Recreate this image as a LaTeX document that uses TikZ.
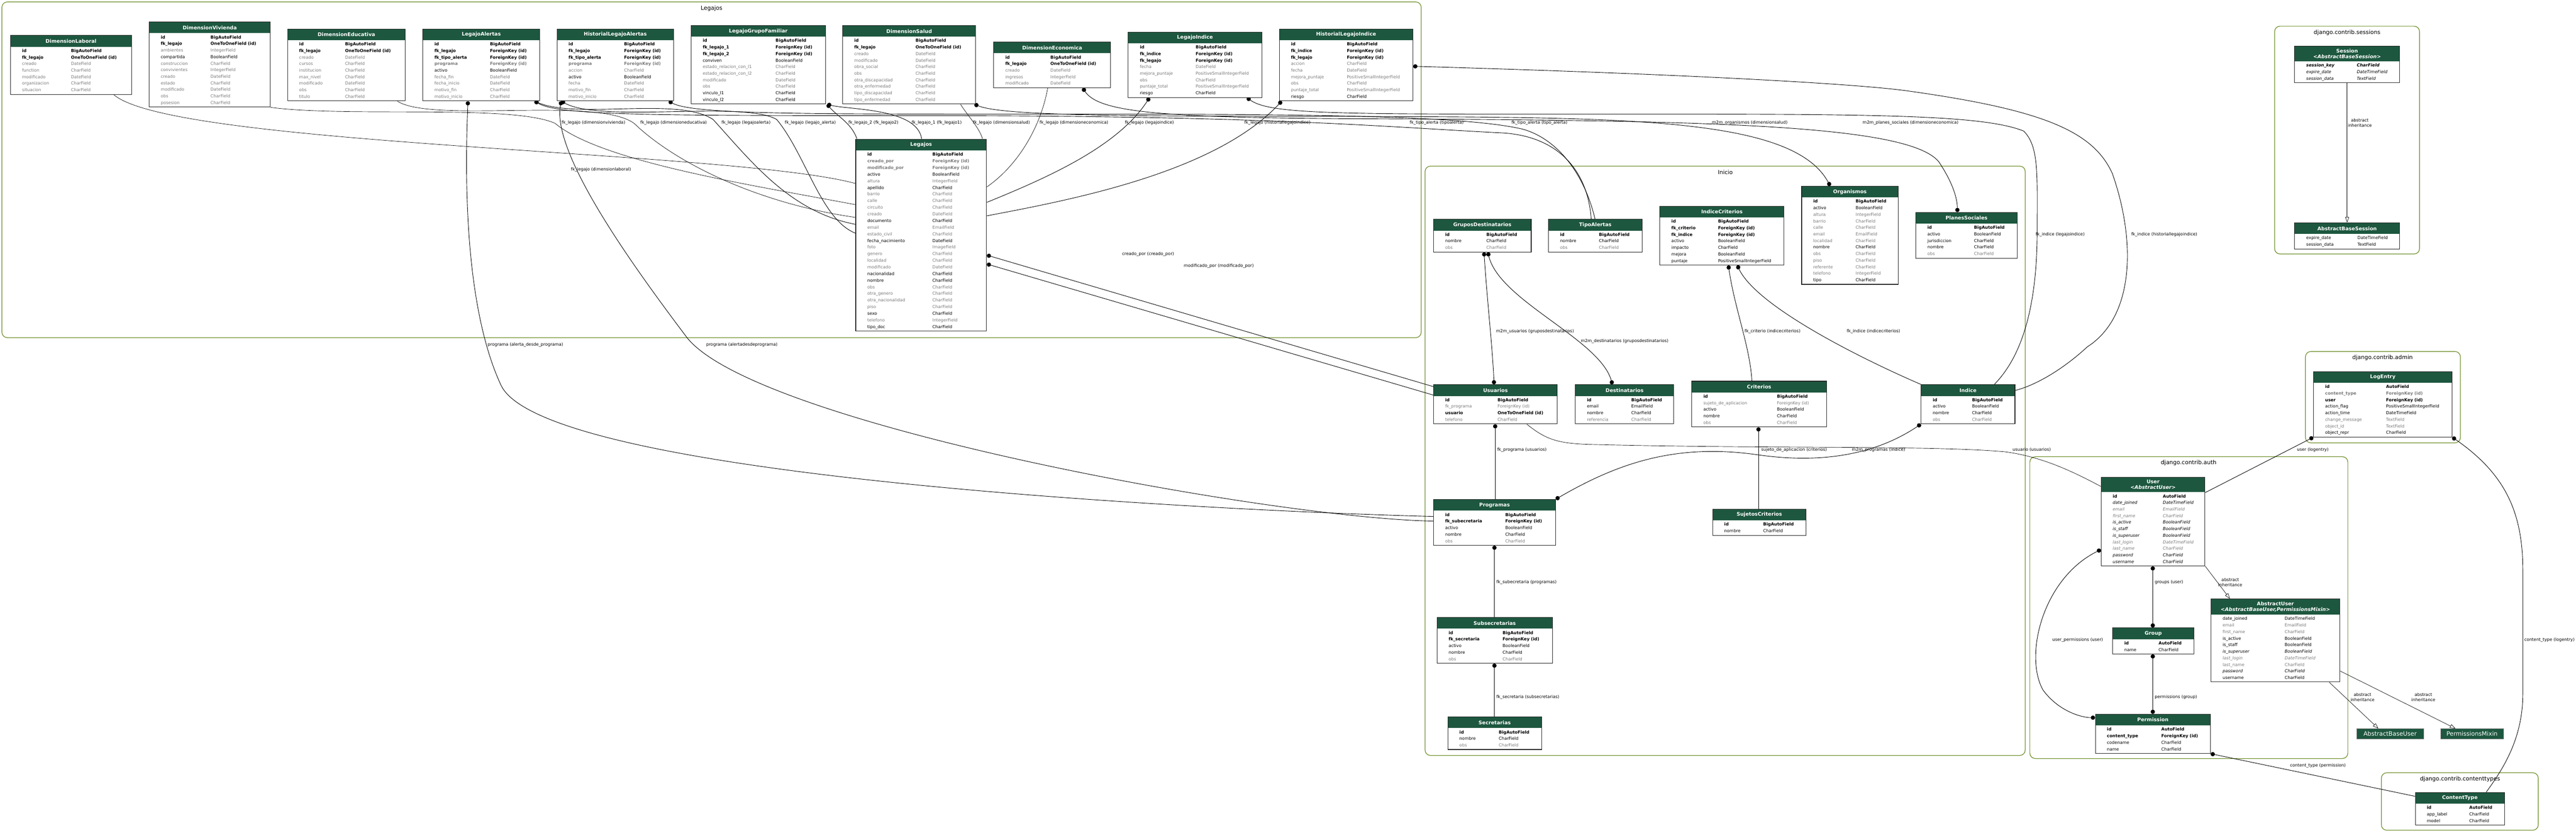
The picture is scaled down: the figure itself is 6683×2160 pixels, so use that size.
\documentclass[tikz,border=0pt]{standalone}
\usepackage{fontspec}
\setmainfont{DejaVu Sans}
\usepackage[usenames,dvipsnames]{xcolor}
\usepackage{tikz}
\usetikzlibrary{arrows.meta,fit}
\pgfdeclarelayer{bg}
\pgfdeclarelayer{back}
\pgfsetlayers{bg,back,main}

\newcommand\fieldB[2]{\textbf{#1} & \textbf{#2}\\}
\newcommand\fieldN[2]{#1 & #2\\}
\newcommand\fieldG[2]{\textcolor{fieldGray}{#1} & \textcolor{fieldGray}{#2}\\}
\newcommand\fieldGB[2]{\textcolor{fieldGray}{\textbf{#1}} & \textcolor{fieldGray}{\textbf{#2}}\\}
\newcommand\fieldI[2]{\textit{#1} & \textit{#2}\\}
\newcommand\fieldGI[2]{\textcolor{fieldGray}{\textit{#1}} & \textcolor{fieldGray}{\textit{#2}}\\}
\newcommand\fieldBI[2]{\textbf{\textit{#1}} & \textbf{\textit{#2}}\\}
\newcommand\modeltable[8][17]{%
  \node[tblhead, text width=#5pt, anchor=north west] (#2-h) at (#3,#4) {#7};
  \node[tblbody, text width=#5pt, anchor=north, font=\fontsize{11}{#1}\selectfont] (#2-b) at (#2-h.south) {\begin{tabular}{@{\hspace{30pt}}p{#6pt}@{}l@{}}#8\end{tabular}};
  \node[tblframe, fit=(#2-h)(#2-b)] (#2) {};
}

\begin{document}
\begin{tikzpicture}[x=1pt,y=-1pt,
  tblhead/.style={fill=headGreen, text=white, font=\fontsize{13}{15}\selectfont\bfseries, align=center, inner xsep=0pt, inner ysep=7pt, minimum height=29pt},
  tblbody/.style={fill=white, inner xsep=0pt, inner ysep=2pt, align=left},
  tblframe/.style={draw=black!85, line width=1.5pt, inner sep=0pt},
  absbox/.style={fill=headGreen, draw=gray, text=white, font=\fontsize{15.5}{17}\selectfont, minimum height=27pt, inner sep=0pt, anchor=north west},
  cluster/.style={draw=clusterGreen, line width=1.6pt, rounded corners=14pt},
  clabel/.style={font=\fontsize{14.7}{17}\selectfont},
  elabel/.style={font=\fontsize{11}{13}\selectfont, anchor=west, inner sep=1pt},
  ilabel/.style={font=\fontsize{11}{13}\selectfont, align=center, inner sep=1pt},
  fkline/.style={line width=1.2pt, {Circle[length=11pt]}-},
  mmline/.style={line width=1.2pt, {Circle[length=11pt]}-{Circle[length=11pt]}},
  ooline/.style={line width=0.9pt},
  inheritline/.style={line width=0.9pt, -{Triangle[open,length=14pt,width=10pt]}}]
\definecolor{headGreen}{RGB}{29,87,63}
\definecolor{fieldGray}{RGB}{123,123,123}
\definecolor{clusterGreen}{RGB}{105,139,34}
\useasboundingbox (0,0) rectangle (6683,2160);
\begin{pgfonlayer}{bg}
\fill[white] (0,0) rectangle (6683,2160);
\end{pgfonlayer}
\begin{pgfonlayer}{back}
\draw[cluster] (5,5) rectangle (3687,876);
\draw[cluster] (3697,431) rectangle (5254,1960);
\draw[cluster] (5901,68) rectangle (6277,659);
\draw[cluster] (5981,912) rectangle (6383,1149);
\draw[cluster] (5266,1185) rectangle (6091,1968);
\draw[cluster] (6178,2005) rectangle (6585,2154);
\end{pgfonlayer}
\node[clabel] (cl-leg) at (1846,22) {Legajos};
\node[clabel] (cl-ini) at (4476,447) {Inicio};
\node[clabel] (cl-sess) at (6089,85) {django.contrib.sessions};
\node[clabel] (cl-admin) at (6181,928) {django.contrib.admin};
\node[clabel] (cl-auth) at (5678,1201) {django.contrib.auth};
\node[clabel] (cl-ct) at (6382,2021) {django.contrib.contenttypes};

\modeltable{dlab}{27}{92}{314}{127}{DimensionLaboral}{\fieldB{id}{BigAutoField}\fieldB{fk\_legajo}{OneToOneField (id)}\fieldG{creado}{DateField}\fieldG{function}{CharField}\fieldG{modificado}{DateField}\fieldG{organizacion}{CharField}\fieldG{situacion}{CharField}}
\modeltable{dviv}{387}{57}{314}{129}{DimensionVivienda}{\fieldB{id}{BigAutoField}\fieldB{fk\_legajo}{OneToOneField (id)}\fieldG{ambientes}{IntegerField}\fieldN{compartida}{BooleanField}\fieldG{construccion}{CharField}\fieldG{convivientes}{IntegerField}\fieldG{creado}{DateField}\fieldG{estado}{CharField}\fieldG{modificado}{DateField}\fieldG{obs}{CharField}\fieldG{posesion}{CharField}}
\modeltable{dedu}{746}{75}{305}{119}{DimensionEducativa}{\fieldB{id}{BigAutoField}\fieldB{fk\_legajo}{OneToOneField (id)}\fieldG{creado}{DateField}\fieldG{cursos}{CharField}\fieldG{institucion}{CharField}\fieldG{max\_nivel}{CharField}\fieldG{modificado}{DateField}\fieldG{obs}{CharField}\fieldG{titulo}{CharField}}
\modeltable{lalert}{1097}{75}{303}{144}{LegajoAlertas}{\fieldB{id}{BigAutoField}\fieldB{fk\_legajo}{ForeignKey (id)}\fieldB{fk\_tipo\_alerta}{ForeignKey (id)}\fieldGB{programa}{ForeignKey (id)}\fieldN{activo}{BooleanField}\fieldG{fecha\_fin}{DateField}\fieldG{fecha\_inicio}{DateField}\fieldG{motivo\_fin}{CharField}\fieldG{motivo\_inicio}{CharField}}
\modeltable{hlalert}{1445}{75}{302}{144}{HistorialLegajoAlertas}{\fieldB{id}{BigAutoField}\fieldB{fk\_legajo}{ForeignKey (id)}\fieldB{fk\_tipo\_alerta}{ForeignKey (id)}\fieldGB{programa}{ForeignKey (id)}\fieldG{accion}{CharField}\fieldN{activo}{BooleanField}\fieldG{fecha}{DateField}\fieldG{motivo\_fin}{CharField}\fieldG{motivo\_inicio}{CharField}}
\modeltable{lgf}{1793}{66}{348}{189}{LegajoGrupoFamiliar}{\fieldB{id}{BigAutoField}\fieldB{fk\_legajo\_1}{ForeignKey (id)}\fieldB{fk\_legajo\_2}{ForeignKey (id)}\fieldN{conviven}{BooleanField}\fieldG{estado\_relacion\_con\_l1}{CharField}\fieldG{estado\_relacion\_con\_l2}{CharField}\fieldG{modificado}{DateField}\fieldG{obs}{CharField}\fieldN{vinculo\_l1}{CharField}\fieldN{vinculo\_l2}{CharField}}
\modeltable{dsal}{2186}{66}{345}{159}{DimensionSalud}{\fieldB{id}{BigAutoField}\fieldB{fk\_legajo}{OneToOneField (id)}\fieldG{creado}{DateField}\fieldG{modificado}{DateField}\fieldG{obra\_social}{CharField}\fieldG{obs}{CharField}\fieldG{otra\_discapacidad}{CharField}\fieldG{otra\_enfermedad}{CharField}\fieldG{tipo\_discapacidad}{CharField}\fieldG{tipo\_enfermedad}{CharField}}
\modeltable{deco}{2578}{109}{303}{117}{DimensionEconomica}{\fieldB{id}{BigAutoField}\fieldB{fk\_legajo}{OneToOneField (id)}\fieldG{creado}{DateField}\fieldG{ingresos}{IntegerField}\fieldG{modificado}{DateField}}
\modeltable{lind}{2927}{83}{346}{145}{LegajoIndice}{\fieldB{id}{BigAutoField}\fieldB{fk\_indice}{ForeignKey (id)}\fieldB{fk\_legajo}{ForeignKey (id)}\fieldG{fecha}{DateField}\fieldG{mejora\_puntaje}{PositiveSmallIntegerField}\fieldG{obs}{CharField}\fieldG{puntaje\_total}{PositiveSmallIntegerField}\fieldN{riesgo}{CharField}}
\modeltable{hlind}{3319}{75}{346}{145}{HistorialLegajoIndice}{\fieldB{id}{BigAutoField}\fieldB{fk\_indice}{ForeignKey (id)}\fieldB{fk\_legajo}{ForeignKey (id)}\fieldG{accion}{CharField}\fieldG{fecha}{DateField}\fieldG{mejora\_puntaje}{PositiveSmallIntegerField}\fieldG{obs}{CharField}\fieldG{puntaje\_total}{PositiveSmallIntegerField}\fieldN{riesgo}{CharField}}
\modeltable[17.2]{leg}{2220}{361}{339}{169}{Legajos}{\fieldB{id}{BigAutoField}\fieldGB{creado\_por}{ForeignKey (id)}\fieldGB{modificado\_por}{ForeignKey (id)}\fieldN{activo}{BooleanField}\fieldG{altura}{IntegerField}\fieldN{apellido}{CharField}\fieldG{barrio}{CharField}\fieldG{calle}{CharField}\fieldG{circuito}{CharField}\fieldG{creado}{DateField}\fieldN{documento}{CharField}\fieldG{email}{EmailField}\fieldG{estado\_civil}{CharField}\fieldN{fecha\_nacimiento}{DateField}\fieldG{foto}{ImageField}\fieldG{genero}{CharField}\fieldG{localidad}{CharField}\fieldG{modificado}{DateField}\fieldN{nacionalidad}{CharField}\fieldN{nombre}{CharField}\fieldG{obs}{CharField}\fieldG{otra\_genero}{CharField}\fieldG{otra\_nacionalidad}{CharField}\fieldG{piso}{CharField}\fieldN{sexo}{CharField}\fieldG{telefono}{IntegerField}\fieldN{tipo\_doc}{CharField}}

\modeltable{grdest}{3719}{569}{253}{107}{GruposDestinatarios}{\fieldB{id}{BigAutoField}\fieldN{nombre}{CharField}\fieldG{obs}{CharField}}
\modeltable{tipal}{4017}{569}{243}{101}{TipoAlertas}{\fieldB{id}{BigAutoField}\fieldN{nombre}{CharField}\fieldG{obs}{CharField}}
\modeltable{indcrit}{4306}{535}{322}{121}{IndiceCriterios}{\fieldB{id}{BigAutoField}\fieldB{fk\_criterio}{ForeignKey (id)}\fieldB{fk\_indice}{ForeignKey (id)}\fieldN{activo}{BooleanField}\fieldN{impacto}{CharField}\fieldN{mejora}{BooleanField}\fieldN{puntaje}{PositiveSmallIntegerField}}
\modeltable{org}{4674}{483}{250}{110}{Organismos}{\fieldB{id}{BigAutoField}\fieldN{activo}{BooleanField}\fieldG{altura}{IntegerField}\fieldG{barrio}{CharField}\fieldG{calle}{CharField}\fieldG{email}{EmailField}\fieldG{localidad}{CharField}\fieldN{nombre}{CharField}\fieldG{obs}{CharField}\fieldG{piso}{CharField}\fieldG{referente}{CharField}\fieldG{telefono}{IntegerField}\fieldN{tipo}{CharField}}
\modeltable{plan}{4970}{551}{263}{121}{PlanesSociales}{\fieldB{id}{BigAutoField}\fieldN{activo}{BooleanField}\fieldN{jurisdiccion}{CharField}\fieldN{nombre}{CharField}\fieldG{obs}{CharField}}
\modeltable{usu}{3719}{998}{321}{136}{Usuarios}{\fieldB{id}{BigAutoField}\fieldG{fk\_programa}{ForeignKey (id)}\fieldB{usuario}{OneToOneField (id)}\fieldG{telefono}{CharField}}
\modeltable{dest}{4087}{998}{255}{115}{Destinatarios}{\fieldB{id}{BigAutoField}\fieldN{email}{EmailField}\fieldN{nombre}{CharField}\fieldG{referencia}{CharField}}
\modeltable{crit}{4389}{989}{349}{191}{Criterios}{\fieldB{id}{BigAutoField}\fieldG{sujeto\_de\_aplicacion}{ForeignKey (id)}\fieldN{activo}{BooleanField}\fieldN{nombre}{CharField}\fieldG{obs}{CharField}}
\modeltable{ind}{4984}{998}{243}{102}{Indice}{\fieldB{id}{BigAutoField}\fieldN{activo}{BooleanField}\fieldN{nombre}{CharField}\fieldG{obs}{CharField}}
\modeltable{sujcrit}{4443}{1321}{242}{101}{SujetosCriterios}{\fieldB{id}{BigAutoField}\fieldN{nombre}{CharField}}
\modeltable{prog}{3719}{1296}{316}{156}{Programas}{\fieldB{id}{BigAutoField}\fieldB{fk\_subecretaria}{ForeignKey (id)}\fieldN{activo}{BooleanField}\fieldN{nombre}{CharField}\fieldG{obs}{CharField}}
\modeltable{subsec}{3728}{1602}{299}{140}{Subsecretarias}{\fieldB{id}{BigAutoField}\fieldB{fk\_secretaria}{ForeignKey (id)}\fieldN{activo}{BooleanField}\fieldN{nombre}{CharField}\fieldG{obs}{CharField}}
\modeltable{sec}{3756}{1860}{243}{102}{Secretarias}{\fieldB{id}{BigAutoField}\fieldN{nombre}{CharField}\fieldG{obs}{CharField}}

\modeltable{sess}{5953}{120}{272}{131}{Session\\\textit{<AbstractBaseSession>}}{\fieldBI{session\_key}{CharField}\fieldI{expire\_date}{DateTimeField}\fieldI{session\_data}{TextField}}
\modeltable{abssess}{5953}{578}{272}{133}{AbstractBaseSession}{\fieldN{expire\_date}{DateTimeField}\fieldN{session\_data}{TextField}}
\modeltable{logent}{6002}{964}{359}{158}{LogEntry}{\fieldB{id}{AutoField}\fieldGB{content\_type}{ForeignKey (id)}\fieldB{user}{ForeignKey (id)}\fieldN{action\_flag}{PositiveSmallIntegerField}\fieldN{action\_time}{DateTimeField}\fieldG{change\_message}{TextField}\fieldG{object\_id}{TextField}\fieldN{object\_repr}{CharField}}
\modeltable{user}{5451}{1238}{269}{130}{User\\\textit{<AbstractUser>}}{\fieldB{id}{AutoField}\fieldI{date\_joined}{DateTimeField}\fieldGI{email}{EmailField}\fieldGI{first\_name}{CharField}\fieldI{is\_active}{BooleanField}\fieldI{is\_staff}{BooleanField}\fieldI{is\_superuser}{BooleanField}\fieldGI{last\_login}{DateTimeField}\fieldGI{last\_name}{CharField}\fieldI{password}{CharField}\fieldI{username}{CharField}}
\modeltable{group}{5481}{1629}{210}{89}{Group}{\fieldB{id}{AutoField}\fieldN{name}{CharField}}
\modeltable{perm}{5436}{1853}{298}{141}{Permission}{\fieldB{id}{AutoField}\fieldB{content\_type}{ForeignKey (id)}\fieldN{codename}{CharField}\fieldN{name}{CharField}}
\modeltable{absuser}{5736}{1554}{334}{161}{AbstractUser\\\textit{<AbstractBaseUser,PermissionsMixin>}}{\fieldN{date\_joined}{DateTimeField}\fieldG{email}{EmailField}\fieldG{first\_name}{CharField}\fieldN{is\_active}{BooleanField}\fieldN{is\_staff}{BooleanField}\fieldI{is\_superuser}{BooleanField}\fieldGI{last\_login}{DateTimeField}\fieldG{last\_name}{CharField}\fieldI{password}{CharField}\fieldN{username}{CharField}}
\modeltable{ctype}{6266}{2056}{231}{110}{ContentType}{\fieldB{id}{AutoField}\fieldN{app\_label}{CharField}\fieldN{model}{CharField}}
\node[absbox, minimum width=173pt] (absbase) at (6114,1890) {AbstractBaseUser};
\node[absbox, minimum width=162pt] (permmix) at (6332,1890) {PermissionsMixin};

\begin{pgfonlayer}{back}
\draw[ooline] (dlab.south -| 295,0) .. controls (450,380) and (1900,390) .. (leg.west |- 0,476);
\draw[ooline] (dviv.south east) .. controls (900,305) and (1330,270) .. (1440,320) .. controls (1560,420) and (1950,480) .. (leg.west |- 0,531);
\draw[ooline] (dedu.south -| 1031,0) .. controls (1120,320) and (1550,250) .. (1645,320) .. controls (1760,430) and (1980,530) .. (leg.west |- 0,564);
\draw[fkline] (lalert.south -| 1387,0) .. controls (1500,310) and (1760,250) .. (1850,310) .. controls (1950,420) and (2050,550) .. (leg.west |- 0,582);
\draw[fkline] (hlalert.south -| 1456,0) .. controls (1560,320) and (1930,260) .. (2015,310) .. controls (2090,400) and (2130,570) .. (leg.west |- 0,605);
\draw[fkline] (lgf.south -| 2146,0) .. controls (2170,300) and (2210,320) .. (leg.north -| 2223,0);
\draw[fkline] (lgf.south -| 2146,0) .. controls (2200,285) and (2380,280) .. (leg.north -| 2391,0);
\draw[ooline] (dsal.south -| 2492,0) .. controls (2510,300) and (2540,330) .. (leg.north -| 2549,0);
\draw[ooline] (deco.south -| 2718,0) .. controls (2700,330) and (2640,430) .. (leg.east |- 0,485);
\draw[fkline] (lind.south -| 2982,0) .. controls (2900,380) and (2720,460) .. (leg.east |- 0,525);
\draw[fkline] (hlind.south -| 3325,0) .. controls (3150,450) and (2770,520) .. (leg.east |- 0,560);
\draw[fkline] (lalert.south -| 1214,0) .. controls (1200,600) and (1230,850) .. (1300,1000) .. controls (1420,1250) and (3300,1330) .. (prog.west |- 0,1340);
\draw[fkline] (hlalert.south -| 1456,0) .. controls (1430,400) and (1650,700) .. (1780,873) .. controls (1950,1100) and (3300,1345) .. (prog.west |- 0,1352);
\draw[fkline] (lalert.south -| 1387,0) .. controls (1450,300) and (1700,300) .. (2400,300) .. controls (3300,300) and (3600,330) .. (3900,345) .. controls (4050,355) and (4120,450) .. (tipal.north -| 4128,0);
\draw[fkline] (hlalert.south -| 1735,0) .. controls (1800,298) and (2100,296) .. (2800,296) .. controls (3400,296) and (3800,300) .. (3950,335) .. controls (4040,360) and (4110,450) .. (tipal.north -| 4138,0);
\draw[mmline] (dsal.south -| 2528,0) .. controls (2600,300) and (2900,302) .. (3500,302) .. controls (4200,305) and (4650,300) .. (org.north -| 4748,0);
\draw[mmline] (deco.south -| 2809,0) .. controls (2850,290) and (3000,305) .. (3500,308) .. controls (4400,312) and (4950,320) .. (5030,420) .. controls (5070,480) and (5078,520) .. (plan.north -| 5078,0);
\draw[fkline] (lind.south -| 3235,0) .. controls (3300,300) and (3500,296) .. (4300,296) .. controls (4900,296) and (5150,300) .. (5250,340) .. controls (5290,380) and (5285,450) .. (5285,600) .. controls (5285,850) and (5220,950) .. (ind.north -| 5174,0);
\draw[fkline] (hlind.east |- 0,172) .. controls (4300,190) and (4800,215) .. (4950,236) .. controls (5300,285) and (5430,340) .. (5480,450) .. controls (5540,620) and (5540,820) .. (5415,900) .. controls (5350,960) and (5280,1000) .. (ind.east |- 0,1013);
\draw[fkline] (leg.east |- 0,662) -- (usu.west |- 0,1003);
\draw[fkline] (leg.east |- 0,685) -- (usu.west |- 0,1025);
\draw[mmline] (grdest.south -| 3850,0) .. controls (3858,780) and (3872,900) .. (usu.north -| 3876,0);
\draw[mmline] (grdest.south -| 3860,0) .. controls (3890,780) and (4150,880) .. (dest.north -| 4183,0);
\draw[fkline] (indcrit.south -| 4484,0) .. controls (4500,800) and (4540,900) .. (crit.north -| 4545,0);
\draw[fkline] (indcrit.south -| 4507,0) .. controls (4560,800) and (4850,940) .. (ind.north west);
\draw[fkline] (usu.south -| 3879,0) -- (prog.north -| 3879,0);
\draw[fkline] (crit.south -| 4562,0) -- (sujcrit.north -| 4562,0);
\draw[mmline] (ind.south west) .. controls (4850,1190) and (4700,1200) .. (4560,1180) .. controls (4350,1150) and (4200,1200) .. (prog.north east);
\draw[ooline] (usu.south -| 3961,0) .. controls (4010,1140) and (4040,1150) .. (4120,1153) .. controls (4600,1165) and (5000,1155) .. (5200,1172) .. controls (5300,1185) and (5380,1225) .. (user.west |- 0,1262);
\draw[fkline] (prog.south -| 3877,0) -- (subsec.north -| 3877,0);
\draw[fkline] (subsec.south -| 3877,0) -- (sec.north -| 3877,0);
\draw[mmline] (user.south -| 5585,0) -- (group.north -| 5585,0);
\draw[mmline] (group.south -| 5585,0) -- (perm.north -| 5585,0);
\draw[mmline] (user.west |- 0,1426) .. controls (5300,1500) and (5250,1700) .. (5300,1790) .. controls (5340,1845) and (5400,1862) .. (perm.west |- 0,1862);
\draw[inheritline] (user.south east) -- (absuser.north -| 5785,0);
\draw[inheritline] (absuser.south -| 6043,0) -- (absbase.north -| 6170,0);
\draw[inheritline] (absuser.east |- 0,1741) -- (permmix.north -| 6370,0);
\draw[fkline] (logent.south west) -- (user.east |- 0,1278);
\draw[fkline] (logent.south east) .. controls (6500,1230) and (6545,1330) .. (6545,1480) -- (6545,1800) .. controls (6545,1920) and (6490,2000) .. (ctype.north -| 6450,0);
\draw[fkline] (perm.south east) -- (ctype.west |- 0,2066);
\draw[inheritline] (sess.south) -- (abssess.north);
\end{pgfonlayer}

\node[elabel] (lb-lab) at (1480,440) {fk\_legajo (dimensionlaboral)};
\node[elabel] (lb-viv) at (1456,319) {fk\_legajo (dimensionvivienda)};
\node[elabel] (lb-edu) at (1660,319) {fk\_legajo (dimensioneducativa)};
\node[elabel] (lb-lal) at (1871,319) {fk\_legajo (legajoalerta)};
\node[elabel] (lb-hla) at (2035,319) {fk\_legajo (legajo\_alerta)};
\node[elabel] (lb-lgf2) at (2200,319) {fk\_legajo\_2 (fk\_legajo2)};
\node[elabel] (lb-lgf1) at (2364,319) {fk\_legajo\_1 (fk\_legajo1)};
\node[elabel] (lb-sal) at (2523,319) {fk\_legajo (dimensionsalud)};
\node[elabel] (lb-eco) at (2696,319) {fk\_legajo (dimensioneconomica)};
\node[elabel] (lb-lind) at (2917,319) {fk\_legajo (legajoindice)};
\node[elabel] (lb-hlind) at (3227,319) {fk\_legajo (historiallegajoindice)};
\node[elabel] (lb-ta1) at (3656,319) {fk\_tipo\_alerta (tipoalerta)};
\node[elabel] (lb-ta2) at (3920,319) {fk\_tipo\_alerta (tipo\_alerta)};
\node[elabel] (lb-org) at (4440,319) {m2m\_organismos (dimensionsalud)};
\node[elabel, anchor=east] (lb-plan) at (5082,319) {m2m\_planes\_sociales (dimensioneconomica)};
\node[elabel] (lb-ind1) at (5280,609) {fk\_indice (legajoindice)};
\node[elabel] (lb-ind2) at (5528,609) {fk\_indice (historiallegajoindice)};
\node[elabel] (lb-pr1) at (1264,894) {programa (alerta\_desde\_programa)};
\node[elabel] (lb-pr2) at (1831,894) {programa (alertadesdeprograma)};
\node[elabel] (lb-cre) at (2910,660) {creado\_por (creado\_por)};
\node[elabel] (lb-mod) at (3070,690) {modificado\_por (modificado\_por)};
\node[elabel] (lb-gu) at (3880,860) {m2m\_usuarios (gruposdestinatarios)};
\node[elabel] (lb-gd) at (4100,885) {m2m\_destinatarios (gruposdestinatarios)};
\node[elabel] (lb-ic) at (4525,860) {fk\_criterio (indicecriterios)};
\node[elabel] (lb-ii) at (4790,860) {fk\_indice (indicecriterios)};
\node[elabel] (lb-fkp) at (3883,1167) {fk\_programa (usuarios)};
\node[elabel] (lb-suj) at (4568,1167) {sujeto\_de\_aplicacion (criterios)};
\node[elabel] (lb-m2mp) at (4803,1167) {m2m\_programas (indice)};
\node[elabel] (lb-usr) at (5220,1167) {usuario (usuarios)};
\node[elabel] (lb-sub) at (3881,1511) {fk\_subecretaria (programas)};
\node[elabel] (lb-sec) at (3881,1809) {fk\_secretaria (subsecretarias)};
\node[elabel] (lb-grp) at (5589,1511) {groups (user)};
\node[elabel] (lb-prm) at (5589,1809) {permissions (group)};
\node[elabel, anchor=east] (lb-uprm) at (5457,1660) {user\_permissions (user)};
\node[ilabel] (lb-inh1) at (5786,1511) {abstract\\inheritance};
\node[ilabel] (lb-inh2) at (6129,1809) {abstract\\inheritance};
\node[ilabel] (lb-inh3) at (6287,1809) {abstract\\inheritance};
\node[ilabel] (lb-inh4) at (6122,319) {abstract\\inheritance};
\node[elabel] (lb-lgu) at (5958,1167) {user (logentry)};
\node[elabel] (lb-lct) at (6548,1660) {content\_type (logentry)};
\node[elabel] (lb-pct) at (5940,1986) {content\_type (permission)};
\end{tikzpicture}
\end{document}
